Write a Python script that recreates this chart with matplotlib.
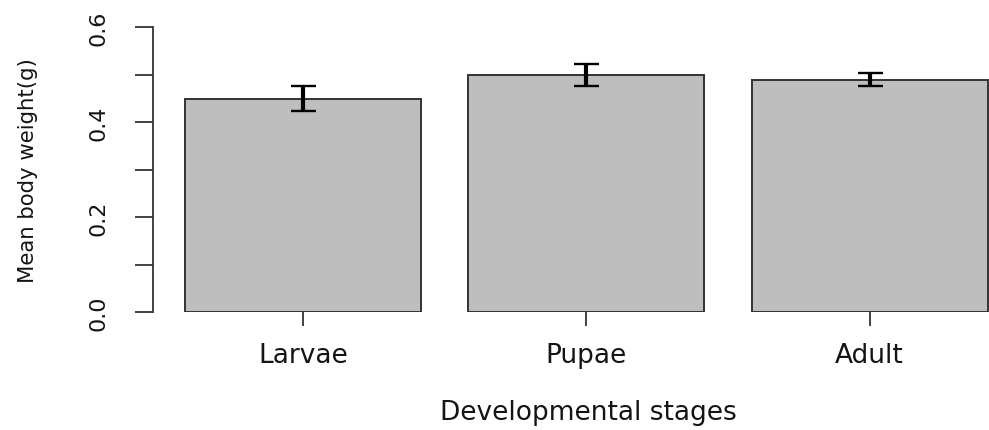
import matplotlib
matplotlib.use("Agg")
import matplotlib.pyplot as plt
import numpy as np

# Data
stages = ["Larvae", "Pupae", "Adult"]
means = [0.450, 0.500, 0.490]
errors = [0.027, 0.023, 0.014]
ytick_values = [0.0, 0.1, 0.2, 0.3, 0.4, 0.5, 0.6]
ytick_labels = ["0.0", "", "0.2", "", "0.4", "", "0.6"]
xlabel = "Developmental stages"
ylabel = "Mean body weight(g)"

plt.rcParams["font.family"] = ["DejaVu Sans"]
W, H = 989, 431
fig = plt.figure(figsize=(W / 100, H / 100), dpi=100)

# axes placement (pixel-based)
left_px, right_px = 152.8, 989.0
bottom_px, top_px = 313.3, 28.3
ax = fig.add_axes([left_px / W, (H - bottom_px) / H,
                   (right_px - left_px) / W, (bottom_px - top_px) / H])

# R barplot geometry: width 1, space 0.2
width = 1.0
space = 0.2
centers = [space + width / 2 + i * (width + space) for i in range(len(stages))]

txt = "#141414"
edge = "#333333"
ax.bar(centers, means, width=width, color="#bebebe", edgecolor=edge,
       linewidth=1.4, zorder=2)
ax.errorbar(centers, means, yerr=errors, fmt="none", ecolor="black",
            elinewidth=3.0, capsize=9, capthick=1.7, zorder=3)

ax.set_xlim(0.064, 3.606)
ax.set_ylim(0, 0.6)

for s in ["top", "right", "bottom"]:
    ax.spines[s].set_visible(False)
ax.spines["left"].set_bounds(0, 0.6)
ax.spines["left"].set_color(edge)
ax.spines["left"].set_linewidth(1.3)

ax.set_yticks(ytick_values, ytick_labels, rotation=90, ha="center",
              va="center", fontsize=16, color=txt)
ax.set_xticks(centers, stages, va="center", fontsize=19, color=txt)
ax.tick_params(axis="y", length=13, width=1.3, color=edge, pad=26)
ax.tick_params(axis="x", length=10.3, width=1.3, color=edge, pad=20.4)

ax.set_xlabel(xlabel, fontsize=19, color=txt, va="center")
ax.xaxis.set_label_coords(0.5205, -0.35)
ax.set_ylabel(ylabel, fontsize=15.3, color=txt, va="center")
ax.yaxis.set_label_coords(-0.1493, 0.5)

fig.savefig("out.png", dpi=100)
